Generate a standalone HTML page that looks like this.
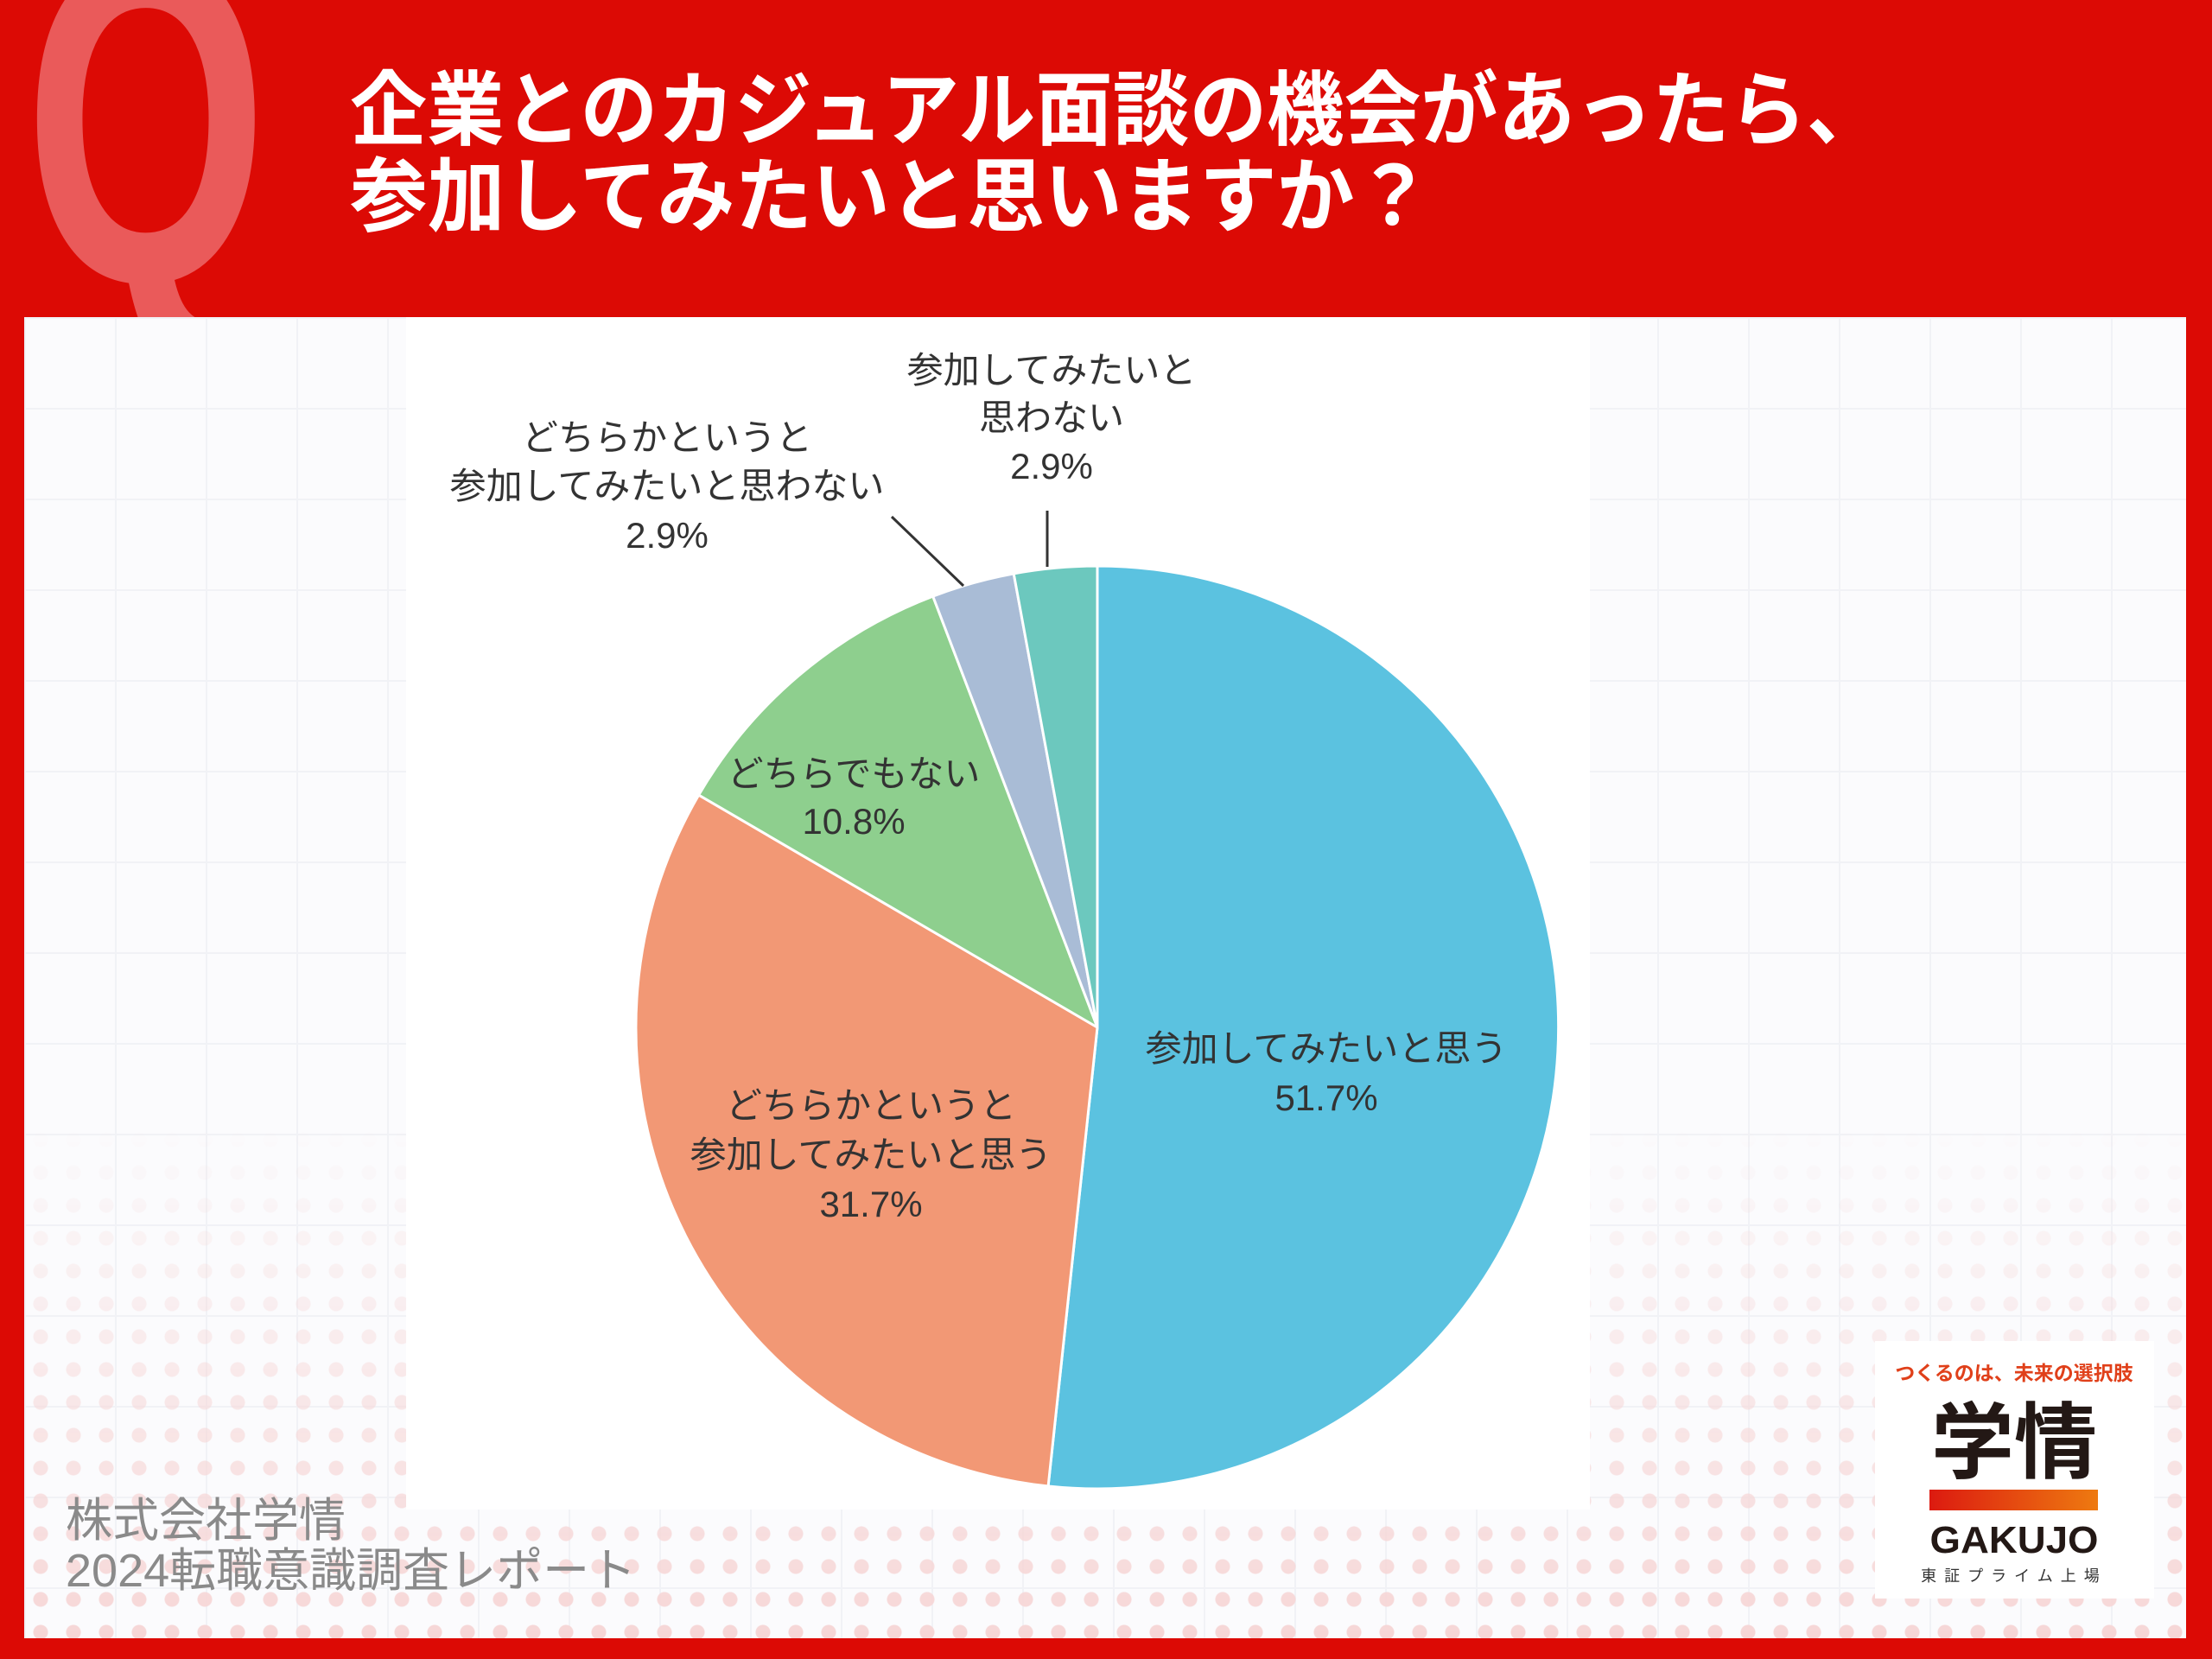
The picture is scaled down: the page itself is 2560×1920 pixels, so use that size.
<!DOCTYPE html>
<html><head><meta charset="utf-8"><style>
html,body{margin:0;padding:0;}
body{width:2560px;height:1920px;background:#dc0a05;position:relative;overflow:hidden;font-family:"Liberation Sans","Noto Sans CJK JP",sans-serif;}
#qsvg{position:absolute;left:0;top:0;}
#panel{position:absolute;left:28px;top:367px;width:2502px;height:1529px;background:#fbfbfd;
background-image:linear-gradient(#f1f2f6 2px,transparent 2px),linear-gradient(90deg,#f1f2f6 2px,transparent 2px);background-size:105px 105px;}
#dots{position:absolute;left:28px;top:1300px;width:2502px;height:596px;
background-image:radial-gradient(circle,#f6d6d6 8px,transparent 9px);background-size:38px 38px;
-webkit-mask-image:linear-gradient(to bottom,transparent,rgba(0,0,0,.6) 60%,#000);}
#chartbg{position:absolute;left:470px;top:367px;width:1370px;height:1380px;background:#fff;}
#main{position:absolute;left:0;top:0;}
</style></head><body>
<svg id="qsvg" width="400" height="400"><text x="28" y="325" font-family="Liberation Sans,sans-serif" font-weight="bold" font-size="540" fill="#ea5a5a" textLength="282" lengthAdjust="spacingAndGlyphs">Q</text></svg>
<div id="panel"></div>
<div id="dots"></div>
<div id="chartbg"></div>
<svg id="main" width="2560" height="1920" viewBox="0 0 2560 1920">
<g font-family="Liberation Sans,Noto Sans CJK JP,sans-serif" font-weight="bold" fill="#fff" font-size="94">
<text x="405" y="160" textLength="1775" lengthAdjust="spacingAndGlyphs">企業とのカジュアル面談の機会があったら、</text>
<text x="405" y="260" textLength="1252" lengthAdjust="spacingAndGlyphs">参加してみたいと思いますか？</text>
</g>
<g stroke="#fff" stroke-width="3" stroke-linejoin="round">
<path d="M1270,1189 L1270,655 A534,534 0 1,1 1213.1,1720 Z" fill="#5bc2e0"/>
<path d="M1270,1189 L1213.1,1720 A534,534 0 0,1 808.6,920.1 Z" fill="#f29875"/>
<path d="M1270,1189 L808.6,920.1 A534,534 0 0,1 1079.7,690.1 Z" fill="#8ecf8e"/>
<path d="M1270,1189 L1079.7,690.1 A534,534 0 0,1 1173.2,663.9 Z" fill="#a9bcd6"/>
<path d="M1270,1189 L1173.2,663.9 A534,534 0 0,1 1270,655 Z" fill="#6cc8be"/>
</g>
<g stroke="#333" stroke-width="3"><line x1="1115" y1="678" x2="1032" y2="598"/><line x1="1212" y1="656" x2="1212" y2="591"/></g>
<g font-family="Liberation Sans,Noto Sans CJK JP,sans-serif" font-size="42" fill="#333" text-anchor="middle">
<text x="1535" y="1228">参加してみたいと思う</text><text x="1535" y="1285">51.7%</text>
<text x="1008" y="1294">どちらかというと</text><text x="1008" y="1351">参加してみたいと思う</text><text x="1008" y="1408">31.7%</text>
<text x="988" y="910">どちらでもない</text><text x="988" y="965">10.8%</text>
<text x="772" y="521">どちらかというと</text><text x="772" y="577">参加してみたいと思わない</text><text x="772" y="634">2.9%</text>
<text x="1217" y="443">参加してみたいと</text><text x="1217" y="498">思わない</text><text x="1217" y="554">2.9%</text>
</g>
<g font-family="Liberation Sans,Noto Sans CJK JP,sans-serif" font-size="54" fill="#8a8a8a">
<text x="76" y="1778">株式会社学情</text><text x="76" y="1836">2024転職意識調査レポート</text>
</g>
<rect x="2170" y="1552" width="323" height="298" fill="#fff"/>
<defs><linearGradient id="g" x1="0" x2="1"><stop offset="0" stop-color="#dc1a10"/><stop offset="1" stop-color="#ee7a10"/></linearGradient></defs>
<text x="2331" y="1597" text-anchor="middle" font-family="Liberation Sans,Noto Sans CJK JP,sans-serif" font-weight="bold" font-size="23" fill="#e0401a">つくるのは、未来の選択肢</text>
<text x="2331" y="1703" text-anchor="middle" font-family="Liberation Sans,Noto Sans CJK JP,sans-serif" font-weight="bold" font-size="96" fill="#231815">学情</text>
<rect x="2233" y="1724" width="195" height="24" fill="url(#g)"/>
<text x="2331" y="1797" text-anchor="middle" font-family="Liberation Sans,sans-serif" font-weight="bold" font-size="44" fill="#231815" textLength="195" lengthAdjust="spacingAndGlyphs">GAKUJO</text>
<text x="2331" y="1830" text-anchor="middle" font-family="Liberation Sans,Noto Sans CJK JP,sans-serif" font-size="18" fill="#333" letter-spacing="9">東証プライム上場</text>
</svg>
</body></html>
